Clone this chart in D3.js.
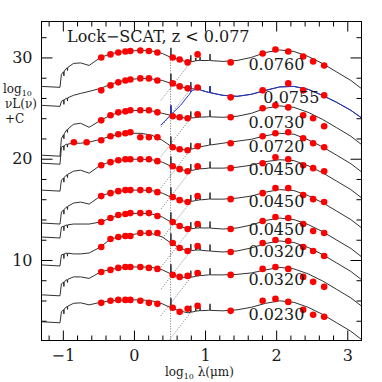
<!DOCTYPE html>
<html>
<head>
<meta charset="utf-8">
<script src="https://cdn.jsdelivr.net/npm/d3@7"></script>
<style>
  body { margin: 0; background: #fff; }
  svg { display: block; }
  text { font-family: "DejaVu Serif", serif; fill: #1a1a1a; }
</style>
</head>
<body>
<svg width="382" height="382"></svg>
<script>
// rest-frame wavelength grid, log10 lambda (um)
const gridX = [-1.3, -1.04, -1.02, -0.95, -0.85, -0.75, -0.63, -0.47, -0.33, -0.2, -0.05, 0.1, 0.25, 0.4,
               0.52, 0.64, 0.76, 0.9, 1.05, 1.25, 1.45, 1.65, 1.85, 2.05, 2.25, 2.45, 2.65, 2.85, 3.05, 3.25];

// fitted SEDs, log10 nuL(nu) + C
const sed1 = [27.14, 27.05, 28.33, 28.92, 29.41, 29.46, 29.21, 30.00, 30.35, 30.54, 30.64, 30.69, 30.64, 30.39, 30.00, 29.80, 29.51, 29.70, 29.70, 29.61, 29.70, 30.00, 30.49, 30.74, 30.59, 30.10, 29.41, 28.57, 27.73, 26.65];
const sed2 = [25.27, 25.17, 25.67, 25.96, 26.26, 26.45, 26.65, 26.95, 27.34, 27.64, 27.83, 27.93, 27.88, 27.73, 27.44, 27.14, 26.95, 26.85, 26.55, 26.26, 26.16, 26.36, 26.75, 27.09, 27.14, 26.85, 26.26, 25.57, 24.78, 23.79];
const sed3 = [20.35, 20.25, 22.02, 22.81, 23.40, 23.50, 23.10, 23.79, 24.29, 24.58, 24.73, 24.78, 24.73, 24.48, 24.29, 24.09, 23.99, 24.09, 24.14, 24.09, 24.19, 24.48, 24.98, 25.22, 25.07, 24.58, 23.89, 23.06, 22.22, 21.13];
const sed4 = [19.56, 19.46, 21.13, 21.43, 21.53, 21.53, 21.63, 21.92, 22.22, 22.42, 22.51, 22.51, 22.32, 21.82, 21.23, 20.94, 20.84, 21.13, 21.33, 21.53, 21.73, 21.92, 22.27, 22.51, 22.42, 21.87, 21.18, 20.35, 19.51, 18.43];
const sed5 = [16.90, 16.80, 17.88, 18.38, 18.77, 18.87, 18.57, 19.36, 19.71, 19.85, 19.95, 19.95, 19.90, 19.66, 19.26, 18.97, 18.77, 18.97, 19.07, 19.07, 19.16, 19.36, 19.71, 19.90, 19.81, 19.31, 18.62, 17.79, 16.95, 15.87];
const sed6 = [13.65, 13.55, 14.73, 15.22, 15.62, 15.72, 15.52, 16.31, 16.65, 16.80, 16.90, 16.90, 16.85, 16.60, 16.21, 15.91, 15.72, 15.91, 16.01, 16.01, 16.11, 16.31, 16.70, 16.95, 16.85, 16.36, 15.67, 14.83, 13.99, 12.91];
const sed7 = [12.27, 12.17, 13.25, 13.45, 13.55, 13.55, 13.55, 13.75, 14.14, 14.44, 14.58, 14.63, 14.54, 14.24, 13.75, 13.35, 13.06, 13.16, 13.16, 13.06, 13.16, 13.45, 13.90, 14.14, 13.99, 13.50, 12.81, 11.97, 11.14, 10.05];
const sed8 = [9.51, 9.41, 10.50, 10.69, 10.60, 10.60, 10.69, 11.28, 12.07, 12.27, 12.47, 12.66, 12.61, 12.27, 11.68, 11.19, 10.89, 10.99, 10.89, 10.79, 10.89, 11.19, 11.63, 11.88, 11.73, 11.24, 10.55, 9.71, 8.87, 7.79];
const sed9 = [6.56, 6.46, 7.64, 8.03, 8.33, 8.33, 8.18, 8.82, 9.07, 9.22, 9.31, 9.31, 9.27, 9.02, 8.63, 8.33, 8.23, 8.43, 8.53, 8.53, 8.58, 8.72, 9.02, 9.27, 9.12, 8.63, 7.94, 7.10, 6.26, 5.18];
const sed10 = [3.90, 3.80, 4.88, 5.37, 5.72, 5.77, 5.57, 5.82, 5.97, 6.02, 6.06, 6.06, 5.97, 5.67, 5.28, 4.98, 4.78, 4.98, 5.03, 4.98, 5.08, 5.33, 5.72, 5.97, 5.82, 5.33, 4.64, 3.80, 2.96, 1.88];

const zLabels = ["0.0760", "0.0755", "0.0730", "0.0720", "0.0450", "0.0450", "0.0450", "0.0320", "0.0320", "0.0230"];

// photometry: u g r i z J H K, IRAC 1-4, 24, 70, 100, 160, 250, 350, 500
const dotX = [-0.46, -0.33, -0.22, -0.12, -0.05, 0.09, 0.21, 0.33, 0.545, 0.643, 0.755, 0.895,
              1.36, 1.81, 1.99, 2.17, 2.38, 2.52, 2.675];
const dots1 = [30.00, 30.30, 30.49, 30.59, 30.64, 30.69, 30.64, 30.49, 30.00, 29.80, 29.51, 30.30, 29.51, 30.39, 30.79, 30.59, 30.10, 29.61, 29.21];
const dots2 = [26.75, 27.24, 27.54, 27.73, 27.83, 27.93, 27.93, 27.73, 27.44, 27.14, 26.95, 27.04, 26.06, 26.75, null, 27.44, 26.75, null, 26.26];
const dots3 = [23.79, 24.29, 24.58, 24.68, 24.78, 24.78, 24.78, 24.58, 24.19, 24.09, 23.99, 24.39, 24.09, 24.98, 25.27, 25.07, 24.29, 23.99, 23.20];
const dots4 = [21.82, 22.22, 22.42, 22.51, 22.61, 22.12, 22.12, 22.12, 21.13, 20.94, 20.84, 21.23, 21.53, 22.22, 22.51, 22.61, 22.02, 21.53, 21.13];
const dots5 = [19.36, 19.66, 19.85, 19.95, 19.95, 19.95, 19.95, 19.76, 19.26, 18.97, 18.77, 19.26, 19.07, 19.56, 20.15, 19.95, 19.36, 19.07, 18.77];
const dots6 = [16.31, 16.60, 16.80, 16.90, 16.90, 16.90, 16.90, 16.70, 16.21, 15.91, 15.72, 16.31, 16.01, 16.60, 17.10, 17.10, 16.41, 16.01, 15.72];
const dots7 = [13.75, 14.14, 14.44, 14.54, 14.63, 14.63, 14.63, 14.34, 13.75, 13.35, 13.06, 13.55, 13.06, 13.85, 14.24, 14.14, 13.55, 12.86, 12.67];
const dots8 = [11.28, 12.07, 12.27, 12.37, 12.37, 12.66, 12.66, 12.66, 11.68, 11.19, 10.89, 11.38, 10.79, 11.68, 11.97, 11.88, 11.28, 10.89, 10.40];
const dots9 = [8.82, 9.02, 9.22, 9.31, 9.31, 9.31, 9.22, 9.12, 8.53, 8.33, 8.43, 8.72, 8.53, 9.12, 9.31, 9.12, 8.33, 7.84, 7.35];
const dots10 = [5.77, 5.97, 6.06, 6.06, 6.06, 5.97, 5.77, 5.67, 5.28, 4.88, 5.18, 5.47, 4.98, 5.97, 6.16, 5.86, 5.08, 4.59, 4.39];

// GALEX points, only for the 0.0720 source
const galexX = [-0.845, -0.665];
const galexY4 = [21.63, 21.63];

// blue IR template for the 0.0755 source (joins sed2 beyond 0.85)
const blueX = [0.376, 0.514, 0.655, 0.767, 0.823];
const blueY = [23.30, 24.29, 25.27, 26.26, 26.75];

// narrow absorption / emission features (dex)
const featX = [-0.985, -0.935, 0.52, 0.80, 0.87, 0.93, 1.07];
const featH = [-0.45, -0.3, 0.95, 0.65, 0.3, 0.35, 0.65];

const xTicks = [-1, 0, 1, 2, 3];
const yTicks = [10, 20, 30];

const seds = [sed1, sed2, sed3, sed4, sed5, sed6, sed7, sed8, sed9, sed10];
const dots = [dots1, dots2, dots3, dots4, dots5, dots6, dots7, dots8, dots9, dots10];

// label placement (layout only)
const labelAt = [[1.61, 28.72], [1.82, 25.47], [1.61, 23.0], [1.61, 20.64], [1.61, 18.38],
                 [1.61, 15.23], [1.61, 12.47], [1.61, 10.30], [1.61, 7.54], [1.61, 4.09]];

const padL = 41.5, padR = 361.5, padT = 21.5, padB = 340.5;
const svg = d3.select("svg");

const x = d3.scaleLinear().domain([-1.3, 3.2]).range([padL, padR]);
const y = d3.scaleLinear().domain([2.05, 33.55]).range([padB, padT]);

svg.append("defs").append("clipPath").attr("id", "plot")
    .append("rect").attr("x", padL).attr("y", padT)
    .attr("width", padR - padL).attr("height", padB - padT);

const plot = svg.append("g").attr("clip-path", "url(#plot)");

// insert narrow spikes into a polyline
function withFeatures(xs, ys, lo)
{
    var base = d3.scaleLinear().domain(xs).range(ys);
    var pts = xs.map((v, i) => [v, ys[i]])
                .filter(p => featX.every(f => Math.abs(p[0] - f) > 0.01));
    featX.forEach((f, i) => {
        if (f < lo) return;
        pts.push([f - 0.005, base(f - 0.005)]);
        pts.push([f, base(f) + featH[i]]);
        pts.push([f + 0.005, base(f + 0.005)]);
    });
    return pts.sort((a, b) => a[0] - b[0]);
}

var line = d3.line()
    .x(d => x(d[0]))
    .y(d => y(d[1]));

// dotted dust components
seds.forEach(s => {
    var base = d3.scaleLinear().domain(gridX).range(s);
    var end = base(0.80);
    plot.append("path")
        .attr("d", line([[0.38, end - 3.8], [0.80, end]]))
        .attr("fill", "none").attr("stroke", "#777")
        .attr("stroke-width", 1).attr("stroke-dasharray", "1,1.6");
    plot.append("path")
        .attr("d", line([[0.515, base(0.515)], [0.515, base(0.515) - 3.4]]))
        .attr("fill", "none").attr("stroke", "#777")
        .attr("stroke-width", 1).attr("stroke-dasharray", "1,1.6");
});

// SED curves
seds.forEach(s => {
    plot.append("path")
        .attr("d", line(withFeatures(gridX, s, -2)))
        .attr("fill", "none").attr("stroke", "#1a1a1a").attr("stroke-width", 0.9)
        .attr("stroke-linejoin", "bevel");
});

// blue template
var bx = blueX.concat(gridX.filter(v => v > 0.85));
var by = blueY.concat(sed2.filter((v, i) => gridX[i] > 0.85));
plot.append("path")
    .attr("d", line(withFeatures(bx, by, 0.4)))
    .attr("fill", "none").attr("stroke", "#2233cc").attr("stroke-width", 1)
    .attr("stroke-linejoin", "bevel");

// photometry
dots.forEach(d => {
    plot.selectAll(null)
        .data(d.map((v, i) => [dotX[i], v]).filter(p => p[1] !== null))
        .enter().append("circle")
        .attr("cx", p => x(p[0])).attr("cy", p => y(p[1]))
        .attr("r", 3.3).attr("fill", "#ff0000");
});
plot.selectAll(null)
    .data(galexX.map((v, i) => [v, galexY4[i]]))
    .enter().append("circle")
    .attr("cx", p => x(p[0])).attr("cy", p => y(p[1]))
    .attr("r", 3.3).attr("fill", "#ff0000");

// redshift labels
svg.selectAll(null)
    .data(zLabels)
    .enter().append("text")
    .attr("x", (d, i) => x(labelAt[i][0]))
    .attr("y", (d, i) => y(labelAt[i][1]))
    .attr("font-size", 16)
    .text(d => d);

// axes
function tidy(g)
{
    g.select(".domain").remove();
    g.selectAll("line").attr("stroke", "#000");
    g.selectAll("text").attr("font-family", "DejaVu Serif").attr("font-size", 16).attr("fill", "#1a1a1a");
}
var minorX = d3.range(-1.2, 3.2, 0.2).filter(v => Math.abs(v - Math.round(v)) > 0.01);
var minorY = d3.range(4, 34, 2).filter(v => v % 10 !== 0);

svg.append("g").attr("transform", `translate(0, ${padB})`)
    .call(d3.axisBottom(x).tickValues(xTicks).tickSize(-10).tickPadding(9)
        .tickFormat(d => d < 0 ? "\u2212" + (-d) : d)).call(tidy);
svg.append("g").attr("transform", `translate(0, ${padB})`)
    .call(d3.axisBottom(x).tickValues(minorX).tickSize(-5).tickFormat("")).call(tidy);
svg.append("g").attr("transform", `translate(0, ${padT})`)
    .call(d3.axisTop(x).tickValues(xTicks).tickSize(-10).tickFormat("")).call(tidy);
svg.append("g").attr("transform", `translate(0, ${padT})`)
    .call(d3.axisTop(x).tickValues(minorX).tickSize(-5).tickFormat("")).call(tidy);

svg.append("g").attr("transform", `translate(${padL}, 0)`)
    .call(d3.axisLeft(y).tickValues(yTicks).tickSize(-11).tickPadding(9)).call(tidy);
svg.append("g").attr("transform", `translate(${padL}, 0)`)
    .call(d3.axisLeft(y).tickValues(minorY).tickSize(-5).tickFormat("")).call(tidy);
svg.append("g").attr("transform", `translate(${padR}, 0)`)
    .call(d3.axisRight(y).tickValues(yTicks).tickSize(-11).tickFormat("")).call(tidy);
svg.append("g").attr("transform", `translate(${padR}, 0)`)
    .call(d3.axisRight(y).tickValues(minorY).tickSize(-5).tickFormat("")).call(tidy);

svg.append("rect")
    .attr("x", padL).attr("y", padT)
    .attr("width", padR - padL).attr("height", padB - padT)
    .attr("fill", "none").attr("stroke", "#000").attr("stroke-width", 1);

// title
svg.append("text").attr("x", 67).attr("y", 42).attr("font-size", 16)
    .text("Lock\u2212SCAT, z < 0.077");

// axis titles
var xt = svg.append("text").attr("x", 165).attr("y", 376).attr("font-size", 12);
xt.append("tspan").text("log");
xt.append("tspan").attr("font-size", 8).attr("dy", 3).text("10");
xt.append("tspan").attr("dy", -3).text(" \u03bb(\u03bcm)");

var yt = svg.append("text").attr("x", 3).attr("y", 93).attr("font-size", 12);
yt.append("tspan").text("log");
yt.append("tspan").attr("font-size", 8).attr("dy", 3).text("10");
svg.append("text").attr("x", 5).attr("y", 108).attr("font-size", 12).text("\u03bdL(\u03bd)");
svg.append("text").attr("x", 5).attr("y", 123).attr("font-size", 12).text("+C");
</script>
</body>
</html>
